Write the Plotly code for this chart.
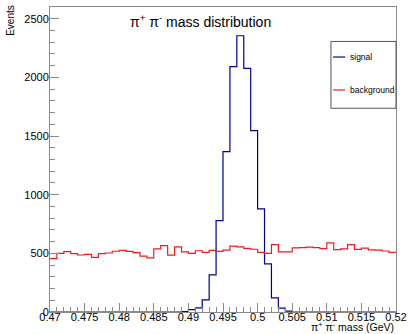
import numpy as np
import plotly.graph_objects as go

# Histogram binning: 50 bins of 1 MeV between 0.47 and 0.52 GeV
x_min, x_max, n_bins = 0.47, 0.52, 50
bin_edges = np.linspace(x_min, x_max, n_bins + 1)

# Bin contents (events per bin)
signal_counts = [
    0, 0, 0, 0, 0, 0, 0, 0, 0, 0,
    0, 0, 0, 0, 0, 0, 0, 0, 0, 3,
    20, 36, 104, 317, 779, 1367, 2091, 2355, 2077, 1546,
    879, 410, 121, 33, 8, 0, 0, 0, 0, 0,
    0, 0, 0, 0, 0, 0, 0, 0, 0, 0,
]
background_counts = [
    455, 500, 514, 497, 486, 492, 466, 497, 503, 518,
    526, 517, 506, 476, 462, 538, 566, 485, 556, 513,
    500, 522, 509, 526, 517, 527, 562, 555, 543, 535,
    508, 500, 575, 513, 512, 547, 548, 553, 548, 540,
    590, 531, 538, 574, 534, 545, 530, 528, 520, 509,
]

# Axis ticks
x_tick_vals = [0.47, 0.475, 0.48, 0.485, 0.49, 0.495, 0.5, 0.505, 0.51, 0.515, 0.52]
x_tick_text = ["0.47", "0.475", "0.48", "0.485", "0.49", "0.495", "0.5", "0.505", "0.51", "0.515", "0.52"]
y_tick_vals = [0, 500, 1000, 1500, 2000, 2500]

series = [
    ("signal", signal_counts, "#000099"),
    ("background", background_counts, "#ee1c1c"),
]

FONT = "Liberation Sans, Arial, Helvetica, sans-serif"
AXIS_GREY = "#8a8a8a"

fig = go.Figure()
for name, counts, color in series:
    # step outline: one horizontal segment per bin
    y_steps = list(counts) + [counts[-1]]
    fig.add_trace(go.Scatter(
        x=bin_edges, y=y_steps, mode="lines", name=name,
        line=dict(color=color, width=1.2, shape="hv"),
        hoverinfo="skip", showlegend=False,
    ))

fig.update_layout(
    width=408, height=334,
    margin=dict(l=50, r=12, t=7, b=22, autoexpand=False),
    paper_bgcolor="white", plot_bgcolor="white",
    font=dict(family=FONT, size=11, color="black"),
    showlegend=False,
    xaxis=dict(
        range=[x_min, x_max], tickvals=x_tick_vals, ticktext=x_tick_text,
        ticks="inside", ticklen=9, tickcolor=AXIS_GREY, tickwidth=1,
        minor=dict(dtick=0.001, tick0=x_min, ticks="inside", ticklen=5,
                   tickcolor=AXIS_GREY, tickwidth=1, showgrid=False),
        showline=True, mirror=True, linecolor=AXIS_GREY, linewidth=1,
        showgrid=False, zeroline=False, tickfont=dict(size=11),
        automargin=False, ticklabelstandoff=-5,
    ),
    yaxis=dict(
        range=[0, 2600], tickvals=y_tick_vals,
        ticks="inside", ticklen=9, tickcolor=AXIS_GREY, tickwidth=1,
        minor=dict(dtick=100, tick0=0, ticks="inside", ticklen=5,
                   tickcolor=AXIS_GREY, tickwidth=1, showgrid=False),
        showline=True, mirror=True, linecolor=AXIS_GREY, linewidth=1,
        showgrid=False, zeroline=False, tickfont=dict(size=11),
        automargin=False, ticklabelstandoff=-2,
    ),
)

# Title and axis titles
fig.add_annotation(
    text="π<sup>+</sup> π<sup>-</sup> mass distribution",
    xref="paper", yref="paper", x=0.434, y=0.955,
    xanchor="center", yanchor="middle", showarrow=False,
    font=dict(size=14, family=FONT),
)
fig.add_annotation(
    text="π<sup>+</sup> π<sup>-</sup> mass (GeV)",
    xref="paper", yref="paper", x=1.0, y=-0.0739,
    xanchor="right", yanchor="bottom", showarrow=False,
    font=dict(size=10.5, family=FONT),
)
fig.add_annotation(
    text="Events", textangle=-90,
    xref="paper", yref="paper", x=-0.113, y=1.015,
    xanchor="center", yanchor="top", showarrow=False,
    font=dict(size=10, family=FONT),
)

# Legend box with line samples
lx0, lx1, ly0, ly1 = 0.812, 1.0, 0.668, 0.887
fig.add_shape(type="rect", xref="paper", yref="paper",
              x0=lx0, x1=lx1, y0=ly0, y1=ly1,
              line=dict(color="#555555", width=1), fillcolor="white", layer="above")
for (name, counts, color), ly in zip(series, [0.836, 0.728]):
    fig.add_shape(type="line", xref="paper", yref="paper",
                  x0=0.818, x1=0.853, y0=ly, y1=ly,
                  line=dict(color=color, width=1.2), layer="above")
    fig.add_annotation(text=name, xref="paper", yref="paper", x=0.860, y=ly,
                       xanchor="left", yanchor="middle", showarrow=False,
                       font=dict(size=8.5, family=FONT))

fig.write_html("out.html")
